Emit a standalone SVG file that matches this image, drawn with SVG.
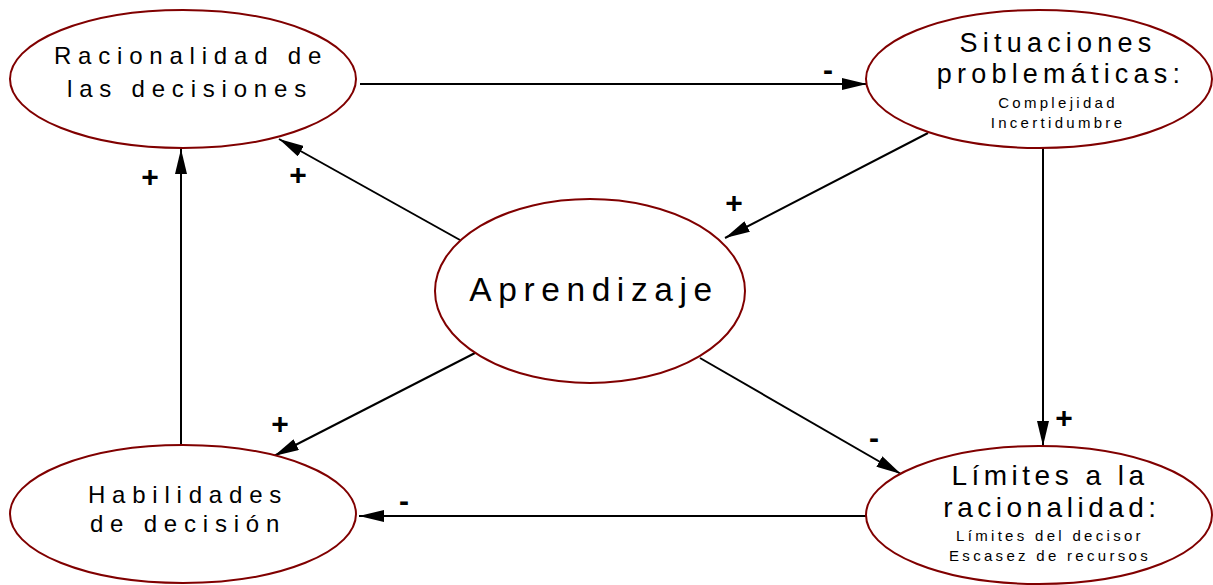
<svg xmlns="http://www.w3.org/2000/svg" width="1213" height="585" viewBox="0 0 1213 585">
  <style>
    .node ellipse { fill: #ffffff; stroke: #800000; stroke-width: 2; }
    text { font-family: "Liberation Sans", Arial, sans-serif; fill: #000000; text-anchor: middle; }
    .t24 { font-size: 24px; letter-spacing: 6.8px; }
    .t27 { font-size: 27px; letter-spacing: 5.2px; }
    .t28 { font-size: 28px; letter-spacing: 4.5px; }
    .t33 { font-size: 33.5px; letter-spacing: 6.6px; }
    .t15 { font-size: 15px; letter-spacing: 3.3px; }
    .sign { font-size: 30px; font-weight: bold; letter-spacing: 0; }
    #connectors line { stroke: #000000; stroke-width: 2; fill: none; }
  </style>
  <defs>
    <marker id="arrow" viewBox="0 0 25 12" refX="25" refY="6" markerWidth="25" markerHeight="12" markerUnits="userSpaceOnUse" orient="auto">
      <path d="M0,0 L25,6 L0,12 Z" fill="#000000"/>
    </marker>
  </defs>

  <rect width="1213" height="585" fill="#ffffff"/>

  <!-- connectors -->
  <g id="connectors">
    <line x1="360" y1="84" x2="867" y2="84" marker-end="url(#arrow)"/>
    <line x1="928" y1="133" x2="725" y2="238" marker-end="url(#arrow)"/>
    <line x1="1043" y1="148" x2="1043" y2="446" marker-end="url(#arrow)"/>
    <line x1="460" y1="240" x2="279" y2="139" marker-end="url(#arrow)"/>
    <line x1="475" y1="353" x2="274" y2="456" marker-end="url(#arrow)"/>
    <line x1="700" y1="358" x2="901" y2="474" marker-end="url(#arrow)"/>
    <line x1="866" y1="516" x2="359" y2="516" marker-end="url(#arrow)"/>
    <line x1="181" y1="445" x2="181" y2="149" marker-end="url(#arrow)"/>
  </g>

  <!-- polarity signs -->
  <g id="signs">
    <text class="sign" x="828" y="80">-</text>
    <text class="sign" x="734" y="213">+</text>
    <text class="sign" x="1064" y="428">+</text>
    <text class="sign" x="298" y="185">+</text>
    <text class="sign" x="280" y="434">+</text>
    <text class="sign" x="874" y="448">-</text>
    <text class="sign" x="404" y="511">-</text>
    <text class="sign" x="150" y="187">+</text>
  </g>

  <g id="racionalidad" class="node">
    <ellipse cx="183" cy="79" rx="173" ry="69"/>
    <text class="t24" x="191" y="64">Racionalidad de</text>
    <text class="t24" x="190" y="97">las decisiones</text>
  </g>

  <g id="situaciones" class="node">
    <ellipse cx="1039" cy="79" rx="173" ry="69"/>
    <text class="t27" x="1058" y="52">Situaciones</text>
    <text class="t27" x="1061" y="83">problemáticas:</text>
    <text class="t15" x="1058" y="108">Complejidad</text>
    <text class="t15" x="1058" y="128">Incertidumbre</text>
  </g>

  <g id="aprendizaje" class="node">
    <ellipse cx="590" cy="291" rx="155" ry="92"/>
    <text class="t33" x="594" y="301">Aprendizaje</text>
  </g>

  <g id="habilidades" class="node">
    <ellipse cx="183" cy="514" rx="173" ry="69"/>
    <text class="t24" x="188" y="503">Habilidades</text>
    <text class="t24" x="188" y="532">de decisión</text>
  </g>

  <g id="limites" class="node">
    <ellipse cx="1039" cy="515" rx="173" ry="69"/>
    <text class="t28" x="1050" y="485">Límites a la</text>
    <text class="t28" x="1052" y="517">racionalidad:</text>
    <text class="t15" x="1050" y="541">Límites del decisor</text>
    <text class="t15" x="1050" y="561">Escasez de recursos</text>
  </g>
</svg>
